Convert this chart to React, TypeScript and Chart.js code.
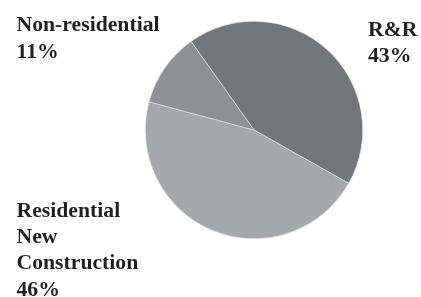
import React, { useEffect, useRef } from "react";
import { Chart, registerables } from "chart.js";

Chart.register(...registerables);

const categories = ["R&R", "Residential New Construction", "Non-residential"];
const shares = [43, 46, 11];
const sliceColors = ["#747579", "#a6a7aa", "#8f9093"];
const labelLines: string[][] = [
  ["R&R", "43%"],
  ["Residential", "New", "Construction", "46%"],
  ["Non-residential", "11%"],
];

const labelPos = [
  { x: 368, y: 36 },
  { x: 16.5, y: 216.5 },
  { x: 16.5, y: 31.3 },
];

const labelsPlugin = {
  id: "sliceLabels",
  afterDraw(chart: any) {
    const ctx = chart.ctx;
    ctx.save();
    ctx.fillStyle = "#231f20";
    ctx.font = "bold 20px 'Liberation Serif', serif";
    ctx.textBaseline = "alphabetic";
    ctx.textAlign = "left";
    labelLines.forEach((lines, i) => {
      const p = labelPos[i];
      lines.forEach((t, j) => {
        ctx.save();
        ctx.translate(p.x, p.y + j * 26.4);
        ctx.scale(1.085, 1);
        ctx.fillText(t, 0, 0);
        ctx.restore();
      });
    });
    ctx.restore();
  },
};

export default function App() {
  const ref = useRef<HTMLCanvasElement>(null);
  useEffect(() => {
    const chart = new Chart(ref.current!, {
      type: "pie",
      data: {
        labels: categories,
        datasets: [
          {
            data: shares,
            backgroundColor: sliceColors,
            borderColor: "#e6e6e6",
            borderWidth: 0.6,
          },
        ],
      },
      options: {
        animation: false,
        responsive: false,
        rotation: -35.4,
        layout: { padding: { left: 145, right: 58, top: 21, bottom: 58 } },
        plugins: {
          legend: { display: false },
          tooltip: { enabled: false },
        },
      },
      plugins: [labelsPlugin],
    });
    return () => chart.destroy();
  }, []);
  return (
    <div style={{ position: "fixed", left: 0, top: 0, width: 421, height: 297, background: "#fff" }}>
      <canvas ref={ref} width={421} height={297} style={{ width: 421, height: 297 }} />
    </div>
  );
}
